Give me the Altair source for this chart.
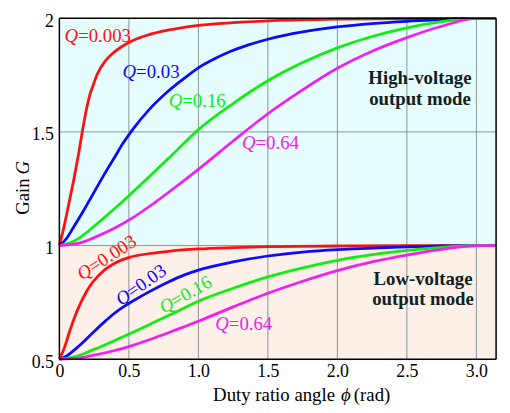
import altair as alt
import pandas as pd
import numpy as np

PI = float(np.pi)

q_names = ["Q=0.003", "Q=0.03", "Q=0.16", "Q=0.64"]
q_values = ["=0.003", "=0.03", "=0.16", "=0.64"]
q_colors = ["#ff1010", "#0a0aff", "#10ee10", "#f020f0"]

# High-voltage output mode curves (G from 1 to 2)
red_hi_x = [0, 0.036, 0.07, 0.107, 0.14, 0.17, 0.2, 0.22, 0.24, 0.273, 0.33, 0.392, 0.45, 0.51, 0.64, 0.8, 1.0, 1.25, 1.5, 2.0, 2.5, 3.0, PI]
red_hi_g = [1.0, 1.09, 1.19, 1.30, 1.41, 1.52, 1.615, 1.665, 1.70, 1.755, 1.812, 1.85, 1.876, 1.897, 1.927, 1.95, 1.969, 1.981, 1.989, 1.996, 1.999, 2.0, 2.0]

blue_hi_x = [0, 0.05, 0.107, 0.18, 0.25, 0.32, 0.392, 0.46, 0.535, 0.641, 0.784, 0.9, 1.0, 1.12, 1.233, 1.354, 1.5, 1.75, 2.0, 2.25, 2.5, 2.75, 3.0, PI]
blue_hi_g = [1.0, 1.03, 1.086, 1.16, 1.235, 1.31, 1.383, 1.452, 1.517, 1.595, 1.68, 1.737, 1.782, 1.823, 1.855, 1.882, 1.908, 1.94, 1.962, 1.977, 1.987, 1.994, 2.0, 2.0]

green_hi_x = [0, 0.107, 0.25, 0.392, 0.51, 0.65, 0.796, 1.0, 1.25, 1.5, 1.75, 2.0, 2.25, 2.5, 2.75, 3.0, PI]
green_hi_g = [1.0, 1.02, 1.085, 1.16, 1.225, 1.305, 1.39, 1.51, 1.625, 1.725, 1.805, 1.87, 1.92, 1.958, 1.985, 2.0, 2.0]

mag_hi_x = [0, 0.15, 0.25, 0.392, 0.535, 0.677, 0.82, 1.0, 1.25, 1.5, 1.75, 2.0, 2.25, 2.5, 2.75, 3.0, PI]
mag_hi_g = [1.0, 1.012, 1.035, 1.075, 1.125, 1.185, 1.25, 1.335, 1.46, 1.58, 1.685, 1.78, 1.855, 1.915, 1.965, 2.0, 2.0]

# Low-voltage output mode curves (G from 0.5 to 1)
red_lo_x = [0, 0.036, 0.07, 0.107, 0.14, 0.178, 0.22, 0.273, 0.33, 0.392, 0.45, 0.51, 0.65, 0.8, 1.0, 1.25, 1.5, 2.0, 2.5, 3.0, PI]
red_lo_g = [0.5, 0.55, 0.615, 0.68, 0.73, 0.778, 0.822, 0.862, 0.895, 0.92, 0.937, 0.949, 0.965, 0.976, 0.985, 0.991, 0.995, 0.998, 1.0, 1.0, 1.0]

blue_lo_x = [0, 0.05, 0.107, 0.18, 0.25, 0.32, 0.392, 0.46, 0.535, 0.641, 0.784, 0.9, 1.0, 1.25, 1.5, 1.75, 2.0, 2.25, 2.5, 2.75, 3.0, PI]
blue_lo_g = [0.5, 0.513, 0.54, 0.58, 0.622, 0.662, 0.70, 0.73, 0.758, 0.795, 0.84, 0.871, 0.892, 0.928, 0.954, 0.971, 0.982, 0.989, 0.994, 0.998, 1.0, 1.0]

green_lo_x = [0, 0.107, 0.25, 0.392, 0.51, 0.65, 0.796, 1.0, 1.25, 1.5, 1.75, 2.0, 2.25, 2.5, 2.75, 3.0, PI]
green_lo_g = [0.5, 0.51, 0.543, 0.58, 0.613, 0.653, 0.695, 0.755, 0.812, 0.862, 0.902, 0.935, 0.96, 0.979, 0.992, 1.0, 1.0]

mag_lo_x = [0, 0.15, 0.25, 0.392, 0.535, 0.677, 0.82, 1.0, 1.25, 1.5, 1.75, 2.0, 2.25, 2.5, 2.75, 3.0, PI]
mag_lo_g = [0.5, 0.506, 0.518, 0.537, 0.562, 0.592, 0.625, 0.667, 0.73, 0.79, 0.843, 0.89, 0.928, 0.958, 0.983, 1.0, 1.0]

# label anchors (junction between "Q" and "=...")
lab_x = [0.135, 0.552, 0.884, 1.411, 0.222, 0.498, 0.814, 1.219]
lab_y = [1.92, 1.763, 1.637, 1.449, 0.90, 0.789, 0.751, 0.655]
lab_angle = [0, 0, 0, 0, 327, 325, 330, 0]
lab_q = [0, 1, 2, 3, 0, 1, 2, 3]

mode_text = ["High-voltage", "output mode", "Low-voltage", "output mode"]
mode_x = [2.594, 2.594, 2.616, 2.616]
mode_y = [1.736, 1.645, 0.852, 0.763]

x_ticks = [0, 0.5, 1.0, 1.5, 2.0, 2.5, 3.0]
y_ticks = [0.5, 1.0, 1.5, 2.0]
x_grid = [0.5, 1.0, 1.5, 2.0, 2.5, 3.0]
y_grid = [1.0, 1.5]

bg_y0 = [1.0, 0.5]
bg_y1 = [2.0, 1.0]
bg_fill = ["#e6fdfd", "#fdf0e8"]

FONT = "Liberation Serif"
FS = 19
TFS = 18

series = [
    ("hi", 0, red_hi_x, red_hi_g), ("hi", 1, blue_hi_x, blue_hi_g),
    ("hi", 2, green_hi_x, green_hi_g), ("hi", 3, mag_hi_x, mag_hi_g),
    ("lo", 0, red_lo_x, red_lo_g), ("lo", 1, blue_lo_x, blue_lo_g),
    ("lo", 2, green_lo_x, green_lo_g), ("lo", 3, mag_lo_x, mag_lo_g),
]
rows = []
for mode, qi, xs, gs in series:
    for x, g in zip(xs, gs):
        rows.append({"series": f"{mode}{qi}", "q": q_names[qi], "phi": x, "G": g})
df = pd.DataFrame(rows)

xsc = alt.Scale(domain=[0, PI], nice=False, zero=False)
ysc = alt.Scale(domain=[0.5, 2.0], nice=False, zero=False)
xax = alt.Axis(values=x_ticks, title=None, grid=False, domain=False, ticks=False,
               labelExpr="datum.value == 0 ? '0' : format(datum.value, '.1f')",
               labelFont=FONT, labelFontSize=TFS, labelColor="black", labelPadding=4,
               labelFlush=False)
yax = alt.Axis(values=y_ticks, title=None, grid=False, domain=False, ticks=False,
               labelExpr="format(datum.value, '~g')",
               labelFont=FONT, labelFontSize=TFS, labelColor="black", labelPadding=6,
               labelOffset=3, labelFlush=False)


def X(f):
    return alt.X(f, scale=xsc, axis=xax)


def Y(f):
    return alt.Y(f, scale=ysc, axis=yax)


col = alt.Color("q:N", scale=alt.Scale(domain=q_names, range=q_colors), legend=None)

bg = pd.DataFrame({"x0": [0, 0], "x1": [PI, PI], "y0": bg_y0, "y1": bg_y1, "fill": bg_fill})
rects = alt.Chart(bg).mark_rect().encode(
    x=X("x0:Q"), x2="x1", y=Y("y0:Q"), y2="y1",
    color=alt.Color("fill:N", scale=None),
)

vgrid = alt.Chart(pd.DataFrame({"x": x_grid})).mark_rule(color="#889494", strokeWidth=1).encode(
    x=X("x:Q"))
hgrid = alt.Chart(pd.DataFrame({"y": y_grid})).mark_rule(color="#889494", strokeWidth=1).encode(
    y=Y("y:Q"))

lines = alt.Chart(df).mark_line(strokeWidth=2.8, interpolate="monotone").encode(
    x=X("phi:Q"), y=Y("G:Q"),
    color=col,
    detail="series:N",
    order=alt.Order("phi:Q"),
)

frame_h = alt.Chart(pd.DataFrame({"y": [0.5, 2.0]})).mark_rule(color="black", strokeWidth=1.5).encode(
    y=Y("y:Q"))
frame_v = alt.Chart(pd.DataFrame({"x": [0, PI]})).mark_rule(color="black", strokeWidth=1.5).encode(
    x=X("x:Q"))

labs = pd.DataFrame({
    "x": lab_x, "y": lab_y, "angle": lab_angle,
    "q": [q_names[i] for i in lab_q], "rest": [q_values[i] for i in lab_q],
})
q_part = alt.Chart(labs).mark_text(text="Q", font=FONT, fontSize=FS, fontStyle="italic",
                                    align="right", baseline="middle").encode(
    x=X("x:Q"), y=Y("y:Q"), angle=alt.Angle("angle:Q", scale=None), color=col)
rest_part = alt.Chart(labs).mark_text(font=FONT, fontSize=FS, align="left", baseline="middle").encode(
    x=X("x:Q"), y=Y("y:Q"), angle=alt.Angle("angle:Q", scale=None), text="rest:N", color=col)

modes = alt.Chart(pd.DataFrame({"t": mode_text, "x": mode_x, "y": mode_y})).mark_text(
    font=FONT, fontSize=FS, fontWeight="bold", color="#102020", align="center", baseline="middle").encode(
    x=X("x:Q"), y=Y("y:Q"), text="t:N")

one = pd.DataFrame({"a": [0]})
TY = 381
xt1 = alt.Chart(one).mark_text(text="Duty ratio angle", font=FONT, fontSize=FS, align="right",
                               baseline="middle", color="black").encode(x=alt.value(279), y=alt.value(TY))
xt2 = alt.Chart(one).mark_text(text="ϕ", font=FONT, fontSize=FS, fontStyle="italic", align="center",
                               baseline="middle", color="black").encode(x=alt.value(290), y=alt.value(TY))
xt3 = alt.Chart(one).mark_text(text="(rad)", font=FONT, fontSize=FS, align="left",
                               baseline="middle", color="black").encode(x=alt.value(298), y=alt.value(TY))
yt1 = alt.Chart(one).mark_text(text="Gain", font=FONT, fontSize=FS, align="right", angle=270,
                               baseline="middle", color="black").encode(x=alt.value(-37), y=alt.value(162))
yt2 = alt.Chart(one).mark_text(text="G", font=FONT, fontSize=FS, fontStyle="italic", align="left", angle=270,
                               dx=4, baseline="middle", color="black").encode(x=alt.value(-37), y=alt.value(162))

chart = alt.layer(
    rects, vgrid, hgrid, lines, frame_h, frame_v, q_part, rest_part, modes, xt1, xt2, xt3, yt1, yt2
).properties(
    width=442, height=345,
    padding={"left": 52, "top": 8, "right": 6, "bottom": 48},
    autosize=alt.AutoSizeParams(type="none"),
).configure_view(stroke=None).configure(background="white")

chart.save("out.html", embed_options={"renderer": "svg", "actions": False})
